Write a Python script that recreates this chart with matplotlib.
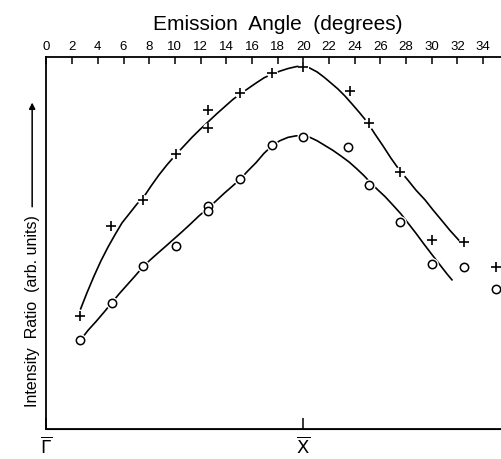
import matplotlib
matplotlib.use("Agg")
import matplotlib.pyplot as plt

# emisja: krzyzyki (+) i kolka (o), wartosci
katyPlus = [2.6, 5.0, 7.5, 10.1, 12.6, 12.6, 15.1, 17.6, 20.0, 23.6, 25.1, 27.5, 30.0, 32.5, 35.0]
wartPlus = [30.3, 54.5, 61.6, 73.8, 80.9, 85.8, 90.2, 95.7, 97.4, 90.8, 82.3, 69.2, 50.7, 50.2, 43.5]

katyKolo = [2.6, 5.1, 7.5, 10.1, 12.6, 12.6, 15.1, 17.6, 20.0, 23.5, 25.1, 27.5, 30.0, 32.5, 35.0]
wartKolo = [23.8, 33.9, 43.7, 49.2, 59.9, 58.5, 67.1, 76.4, 78.6, 75.7, 65.7, 55.6, 44.4, 43.6, 37.6]

# linie prowadzone odrecznie (punkty odczytane wzdluz krzywych)
krzywaPlusX = [2.66, 3.15, 3.70, 4.24, 4.79, 5.33, 5.88, 6.50, 7.05, 7.54, 8.14, 8.76, 9.38,
               10.06, 10.71, 11.33, 11.95, 12.66, 13.28, 13.90, 14.52, 15.07, 15.69, 16.32,
               16.94, 17.56, 18.18, 18.81, 19.43, 20.00, 20.52, 21.07, 21.61, 22.16, 22.70,
               23.25, 23.79, 24.34, 24.94, 25.58, 26.21, 26.83, 27.49, 28.15, 28.78, 29.48,
               30.10, 30.80, 31.42, 32.13]
krzywaPlusY = [32.3, 36.6, 41.1, 45.2, 48.9, 52.2, 55.4, 58.1, 60.5, 62.2, 65.3, 68.3, 71.0,
               73.7, 76.1, 78.4, 80.5, 82.8, 84.8, 86.7, 88.6, 90.0, 91.5, 93.0,
               94.4, 95.4, 96.2, 96.9, 97.4, 97.7, 97.0, 96.0, 94.6, 93.0, 91.4,
               89.5, 87.4, 85.2, 82.7, 79.3, 76.1, 72.8, 69.6, 66.9, 64.2, 61.6,
               58.9, 56.0, 53.4, 50.7]

krzywaKoloX = [2.65, 3.23, 3.86, 4.48, 5.08, 5.65, 6.27, 6.89, 7.49, 8.06, 8.68, 9.31, 9.93,
               10.55, 11.18, 11.88, 12.60, 13.20, 13.82, 14.45, 15.07, 15.69, 16.32, 16.94,
               17.62, 18.18, 18.81, 19.43, 20.00, 20.52, 21.07, 21.69, 22.31, 22.93, 23.56,
               24.18, 24.73, 25.19, 25.74, 26.36, 26.98, 27.61, 28.15, 28.78, 29.40, 30.02,
               30.65, 31.19, 31.58]
krzywaKoloY = [23.9, 26.5, 28.9, 31.4, 33.9, 36.3, 38.7, 41.1, 43.5, 45.4, 47.3, 49.2, 51.1,
               53.0, 55.0, 57.3, 59.4, 61.3, 63.3, 65.2, 67.1, 69.4, 71.6, 74.1,
               76.3, 77.5, 78.4, 78.8, 78.8, 78.4, 77.5, 76.2, 74.9, 73.4, 71.8,
               69.9, 68.1, 66.4, 64.5, 62.5, 60.2, 57.8, 55.4, 52.6, 49.7, 46.9,
               44.1, 41.7, 40.1]

gornePodzialki = list(range(0, 36, 2))
dolnePodzialki = [0, 20]
dolneEtykiety = [r"$\overline{\Gamma}$", r"$\overline{\mathrm{X}}$"]

plt.rcParams["font.family"] = ["Liberation Sans", "DejaVu Sans"]

fig = plt.figure(figsize=(5.01, 4.60), dpi=100)
ax = fig.add_axes([0.0928, 0.0652, 0.9226, 0.8087])

ax.plot(krzywaPlusX, krzywaPlusY, color="black", lw=1.2, zorder=1)
ax.plot(krzywaKoloX, krzywaKoloY, color="black", lw=1.2, zorder=1)

# biale tlo pod znacznikami, zeby linia sie urywala
ax.plot(katyPlus, wartPlus, "o", ms=8, color="white", mec="none", zorder=2)
ax.plot(katyKolo, wartKolo, "o", ms=9, color="white", mec="none", zorder=2)

ax.plot(katyPlus, wartPlus, "+", ms=6.5, mew=1.2, color="black", zorder=3, clip_on=False)
ax.plot(katyKolo, wartKolo, "o", ms=6, mew=1.1, mfc="white", mec="black", zorder=3, clip_on=False)

ax.set_xlim(0, 36)
ax.set_ylim(0, 100)

for s in ax.spines.values():
    s.set_linewidth(1.3)

ax.set_yticks([])
ax.xaxis.set_ticks_position("top")
ax.xaxis.set_label_position("top")
ax.set_xticks(gornePodzialki)
ax.set_xticklabels([str(t) for t in gornePodzialki])
ax.tick_params(axis="x", direction="in", length=5, width=1.1, labelsize=9.5, pad=3.5)
ax.set_xlabel("Emission  Angle  (degrees)", fontsize=15, labelpad=8)

dol = ax.secondary_xaxis("bottom")
dol.set_xticks(dolnePodzialki)
dol.set_xticklabels(dolneEtykiety)
dol.tick_params(direction="in", length=8, width=1.1, labelsize=13, pad=5)

ax.text(-0.031, 0.32, "Intensity  Ratio  (arb. units)", transform=ax.transAxes,
        rotation=90, ha="center", va="center", fontsize=11.5)
ax.annotate("", xy=(-0.031, 0.885), xytext=(-0.031, 0.59), xycoords="axes fraction",
            arrowprops=dict(arrowstyle="-|>", color="black", lw=1.1, mutation_scale=9))

fig.savefig("out.png", dpi=100)
